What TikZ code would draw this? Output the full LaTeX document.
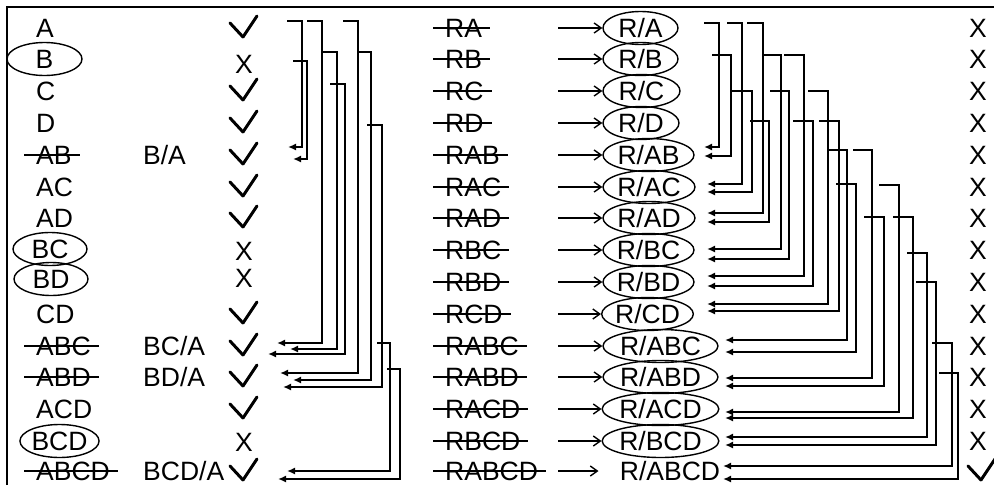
\documentclass[tikz,border=0pt]{standalone}
\usepackage{fontspec}
\setmainfont{Liberation Sans}
\usetikzlibrary{arrows.meta, calc, shapes.geometric}

\begin{document}
\begin{tikzpicture}[x=1pt, y=-1pt,
  font=\fontsize{26.5}{30}\selectfont,
  lbl/.style={anchor=west, inner sep=0pt},
  oval/.style={draw, ellipse, line width=1.4pt, inner sep=0pt, minimum height=33pt},
  strike/.style={line width=1.6pt},
  gone/.style={append after command={([xshift=-12pt]\tikzlastnode.west) edge[strike] ([xshift=8pt]\tikzlastnode.east)}},
  tickln/.style={line width=3pt, line cap=round},
  tick/.style={inner sep=0pt, append after command={
      ([shift={(-14,-5)}]\tikzlastnode.center) edge[tickln] ([shift={(-1,9)}]\tikzlastnode.center)
      ([shift={(-1,9)}]\tikzlastnode.center) edge[tickln] ([shift={(13,-12)}]\tikzlastnode.center)}},
  link/.style={line width=1.6pt, -{Latex[length=8pt, width=7pt]}},
  feed/.style={line width=1.4pt, -{Straight Barb[length=7pt, width=10pt]}},
  rim/.style={line width=2pt}
]
\useasboundingbox (0,0) rectangle (994,485);
\draw[rim] (7,485) -- (7,7) -- (994,7);

% Sets
\node[lbl] (sA) at (36,28) {A};
\node[oval, minimum width=75pt] (sB) at (44.5,59) {B};
\node[lbl] (sC) at (36,91) {C};
\node[lbl] (sD) at (36,123) {D};
\node[lbl, gone] (sAB) at (36,155) {AB};
\node[lbl] (sAC) at (36,187) {AC};
\node[lbl] (sAD) at (36,218) {AD};
\node[oval, minimum width=74pt] (sBC) at (50,249) {BC};
\node[oval, minimum width=74pt] (sBD) at (51,279) {BD};
\node[lbl] (sCD) at (36,314) {CD};
\node[lbl, gone] (sABC) at (36,346) {ABC};
\node[lbl, gone] (sABD) at (36,377) {ABD};
\node[lbl] (sACD) at (36,409) {ACD};
\node[oval, minimum width=75pt] (sBCD) at (59.5,441) {BCD};
\node[lbl, gone] (sABCD) at (36,471) {ABCD};

% Quotients
\node[lbl] (cAB) at (143,155) {B/A};
\node[lbl] (cABC) at (143,346) {BC/A};
\node[lbl] (cABD) at (143,377) {BD/A};
\node[lbl] (cABCD) at (143,471) {BCD/A};

% Marks, left
\node[tick] (mA) at (244,28) {};
\node (mB) at (244,64) {X};
\node[tick] (mC) at (244,91) {};
\node[tick] (mD) at (244,123) {};
\node[tick] (mAB) at (244,155) {};
\node[tick] (mAC) at (244,187) {};
\node[tick] (mAD) at (244,218) {};
\node (mBC) at (244,251) {X};
\node (mBD) at (244,278) {X};
\node[tick] (mCD) at (244,314) {};
\node[tick] (mABC) at (244,346) {};
\node[tick] (mABD) at (244,377) {};
\node[tick] (mACD) at (244,409) {};
\node (mBCD) at (244,442) {X};
\node[tick] (mABCD) at (244,471) {};

% Left connectors
\draw[link] (mA) ++(43,-7) -| ($(mAB)+(58,-8)$) -- +(-14,0);
\draw[link] (mB) ++(49,-3) -| ($(mAB)+(63,4)$) -- +(-14,0);
\draw[link] (mA) ++(63,-7) -| ($(mABC)+(78,-3)$) -- +(-45,0);
\draw[link] (mB) ++(78,-12) -| ($(mABC)+(93,3)$) -- +(-47,0);
\draw[link] (mC) ++(86,-7) -| ($(mABC)+(101,8)$) -- +(-77,0);
\draw[link] (mA) ++(99,-7) -| ($(mABD)+(114,-4)$) -- +(-78,0);
\draw[link] (mB) ++(114,-12) -| ($(mABD)+(127,3)$) -- +(-78,0);
\draw[link] (mD) ++(123,2) -| ($(mABD)+(138,10)$) -- +(-99,0);
\draw[link] (mABC) ++(133,-3) -| ($(mABCD)+(146,0)$) -- +(-103,0);
\draw[link] (mABD) ++(143,-8) -| ($(mABCD)+(156,8)$) -- +(-122,0);

% Rules
\node[lbl, gone] (tA) at (445,28) {RA};
\node[lbl, gone] (tB) at (445,59) {RB};
\node[lbl, gone] (tC) at (445,91) {RC};
\node[lbl, gone] (tD) at (445,123) {RD};
\node[lbl, gone] (tAB) at (445,155) {RAB};
\node[lbl, gone] (tAC) at (445,187) {RAC};
\node[lbl, gone] (tAD) at (445,218) {RAD};
\node[lbl, gone] (tBC) at (445,250) {RBC};
\node[lbl, gone] (tBD) at (445,282) {RBD};
\node[lbl, gone] (tCD) at (445,314) {RCD};
\node[lbl, gone] (tABC) at (445,346) {RABC};
\node[lbl, gone] (tABD) at (445,377) {RABD};
\node[lbl, gone] (tACD) at (445,409) {RACD};
\node[lbl, gone] (tBCD) at (445,441) {RBCD};
\node[lbl, gone] (tABCD) at (445,471) {RABCD};

% Ratios
\node[oval, minimum width=75pt] (rA) at (640.5,28) {R/A};
\node[oval, minimum width=75pt] (rB) at (640.5,59) {R/B};
\node[oval, minimum width=77pt] (rC) at (641.5,91) {R/C};
\node[oval, minimum width=76pt] (rD) at (641,123) {R/D};
\node[oval, minimum width=91pt] (rAB) at (648.5,155) {R/AB};
\node[oval, minimum width=92pt] (rAC) at (649,187) {R/AC};
\node[oval, minimum width=92pt] (rAD) at (649,218) {R/AD};
\node[oval, minimum width=91pt] (rBC) at (648.5,250) {R/BC};
\node[oval, minimum width=91pt] (rBD) at (648.5,282) {R/BD};
\node[oval, minimum width=89pt] (rCD) at (647.5,314) {R/CD};
\node[oval, minimum width=115pt] (rABC) at (660.5,346) {R/ABC};
\node[oval, minimum width=115pt] (rABD) at (660.5,377) {R/ABD};
\node[oval, minimum width=115pt] (rACD) at (660.5,409) {R/ACD};
\node[oval, minimum width=115pt] (rBCD) at (660.5,441) {R/BCD};
\node[oval, draw=none] (rABCD) at (670,471) {R/ABCD};

% Rule to ratio
\draw[feed] (tA.east -| 558,0) -- (rA.west);
\draw[feed] (tB.east -| 558,0) -- (rB.west);
\draw[feed] (tC.east -| 558,0) -- (rC.west);
\draw[feed] (tD.east -| 558,0) -- (rD.west);
\draw[feed] (tAB.east -| 558,0) -- (rAB.west);
\draw[feed] (tAC.east -| 558,0) -- (rAC.west);
\draw[feed] (tAD.east -| 558,0) -- (rAD.west);
\draw[feed] (tBC.east -| 558,0) -- (rBC.west);
\draw[feed] (tBD.east -| 558,0) -- (rBD.west);
\draw[feed] (tCD.east -| 558,0) -- (rCD.west);
\draw[feed] (tABC.east -| 558,0) -- (rABC.west);
\draw[feed] (tABD.east -| 558,0) -- (rABD.west);
\draw[feed] (tACD.east -| 558,0) -- (rACD.west);
\draw[feed] (tBCD.east -| 558,0) -- (rBCD.west);
\draw[feed] (tABCD.east -| 558,0) -- (rABCD.west);

% Marks, right
\node (nA) at (978,28) {X};
\node (nB) at (978,59) {X};
\node (nC) at (978,91) {X};
\node (nD) at (978,123) {X};
\node (nAB) at (978,155) {X};
\node (nAC) at (978,187) {X};
\node (nAD) at (978,218) {X};
\node (nBC) at (978,250) {X};
\node (nBD) at (978,282) {X};
\node (nCD) at (978,314) {X};
\node (nABC) at (978,346) {X};
\node (nABD) at (978,377) {X};
\node (nACD) at (978,409) {X};
\node (nBCD) at (978,441) {X};
\node[tick] (nABCD) at (982,471) {};

% Right connectors
\draw[link] (nA) ++(-274,-5) -| ($(nAB)+(-259,-8)$) -- +(-15,0);
\draw[link] (nA) ++(-251,-5) -| ($(nAC)+(-236,-3)$) -- +(-35,0);
\draw[link] (nA) ++(-231,-5) -| ($(nAD)+(-215,-5)$) -- +(-56,0);
\draw[link] (nB) ++(-266,-4) -| ($(nAB)+(-247,1)$) -- +(-27,0);
\draw[link] (nB) ++(-216,-4) -| ($(nBC)+(-197,-1)$) -- +(-74,0);
\draw[link] (nB) ++(-194,-4) -| ($(nBD)+(-174,-6)$) -- +(-97,0);
\draw[link] (nC) ++(-247,0) -| ($(nAC)+(-226,5)$) -- +(-45,0);
\draw[link] (nC) ++(-208,0) -| ($(nBC)+(-189,9)$) -- +(-82,0);
\draw[link] (nC) ++(-170,0) -| ($(nCD)+(-150,-10)$) -- +(-121,0);
\draw[link] (nD) ++(-228,-2) -| ($(nAD)+(-209,4)$) -- +(-62,0);
\draw[link] (nD) ++(-185,-2) -| ($(nBD)+(-165,4)$) -- +(-106,0);
\draw[link] (nD) ++(-159,-2) -| ($(nCD)+(-139,-3)$) -- +(-132,0);
\draw[link] (nAB) ++(-151,-5) -| ($(nABC)+(-131,-6)$) -- +(-122,0);
\draw[link] (nAB) ++(-125,-5) -| ($(nABD)+(-106,1)$) -- +(-147,0);
\draw[link] (nAC) ++(-142,-3) -| ($(nABC)+(-122,6)$) -- +(-131,0);
\draw[link] (nAC) ++(-99,-2) -| ($(nACD)+(-79,3)$) -- +(-174,0);
\draw[link] (nAD) ++(-114,-1) -| ($(nABD)+(-94,9)$) -- +(-159,0);
\draw[link] (nAD) ++(-85,-1) -| ($(nACD)+(-65,9)$) -- +(-188,0);
\draw[link] (nBC) ++(-71,3) -| ($(nBCD)+(-51,-4)$) -- +(-202,0);
\draw[link] (nBD) ++(-62,0) -| ($(nBCD)+(-42,4)$) -- +(-211,0);
\draw[link] (nABC) ++(-46,-3) -| ($(nABCD)+(-30,-5)$) -- +(-229,0);
\draw[link] (nABD) ++(-39,-4) -| ($(nABCD)+(-24,8)$) -- +(-235,0);
\end{tikzpicture}
\end{document}
